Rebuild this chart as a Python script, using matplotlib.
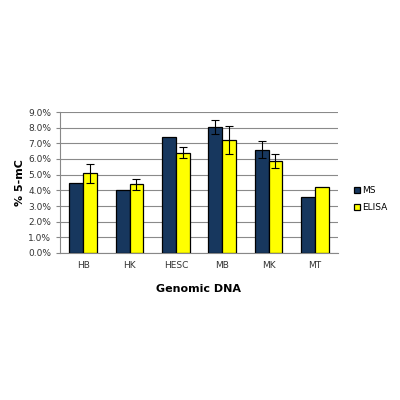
import numpy as np
import matplotlib
matplotlib.use("Agg")
from matplotlib import pyplot as plt
from matplotlib.ticker import PercentFormatter

categories = ["HB", "HK", "HESC", "MB", "MK", "MT"]
ms_values = [4.5, 4.05, 7.4, 8.05, 6.6, 3.55]
ms_errors = [0.0, 0.0, 0.0, 0.45, 0.55, 0.0]
elisa_values = [5.1, 4.4, 6.4, 7.2, 5.9, 4.2]
elisa_errors = [0.6, 0.35, 0.35, 0.9, 0.45, 0.0]
y_ticks = np.arange(0, 10, 1)

fig = plt.figure(figsize=(4, 4), dpi=100)
ax = fig.add_axes([0.15, 0.3675, 0.695, 0.3525])

x = np.arange(len(categories))
w = 0.3
err_kw = dict(ecolor="black", elinewidth=0.8, capsize=3, capthick=0.8)
ms_err = [e if e > 0 else np.nan for e in ms_errors]
el_err = [e if e > 0 else np.nan for e in elisa_errors]
ax.bar(x - w / 2, ms_values, w, color="#17375E", edgecolor="black", linewidth=0.9,
       label="MS", yerr=ms_err, error_kw=err_kw, zorder=3)
ax.bar(x + w / 2, elisa_values, w, color="#FFFF00", edgecolor="black", linewidth=0.9,
       label="ELISA", yerr=el_err, error_kw=err_kw, zorder=3)

ax.set_xlim(-0.5, len(categories) - 0.5)
ax.set_ylim(0, 9)
ax.set_yticks(y_ticks)
ax.yaxis.set_major_formatter(PercentFormatter(decimals=1))
ax.set_xticks(x)
ax.set_xticklabels(categories)
ax.grid(axis="y", color="#8a8a8a", linewidth=0.8, zorder=0)
for s in ["top", "right"]:
    ax.spines[s].set_visible(False)
for s in ["left", "bottom"]:
    ax.spines[s].set_color("#888888")
ax.tick_params(axis="both", labelsize=6.5, colors="#888888", labelcolor="#333333", length=3)
ax.tick_params(axis="x", length=0, pad=6)

ax.set_xlabel("Genomic DNA", fontsize=8, fontweight="bold", labelpad=10)
ax.set_ylabel("% 5-mC", fontsize=8, fontweight="bold", labelpad=2)

ax.legend(loc="center left", bbox_to_anchor=(1.03, 0.38), frameon=False,
          fontsize=6.5, handlelength=0.6, handleheight=0.6, handletextpad=0.3,
          labelspacing=0.9)

fig.savefig("out.png", dpi=100, facecolor="white")
